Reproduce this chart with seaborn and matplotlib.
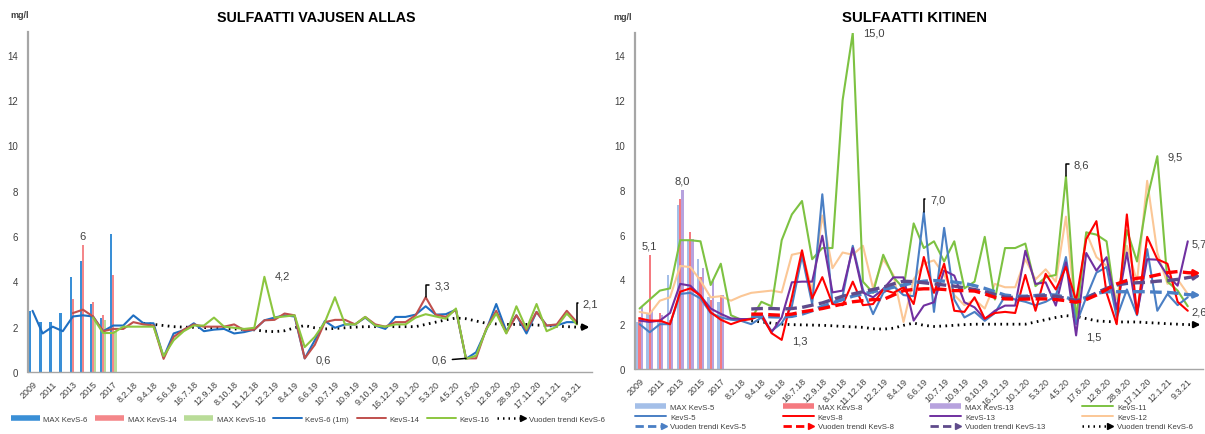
import numpy as np
import pandas as pd
import matplotlib
matplotlib.use("Agg")
import matplotlib.pyplot as plt
import seaborn as sns
from matplotlib.lines import Line2D
from matplotlib.legend_handler import HandlerBase

nan = np.nan
N_CAT = 56

# every second category carries a label
TICK_LABELS = ["2009", "2011", "2013", "2015", "2017",
               "8.2.18", "9.4.18", "5.6.18", "16.7.18", "12.9.18", "8.10.18",
               "11.12.18", "12.2.19", "8.4.19", "6.6.19", "10.7.19", "10.9.19",
               "9.10.19", "16.12.19", "10.1.20", "5.3.20", "4.5.20", "17.6.20",
               "12.8.20", "28.9.20", "17.11.20", "12.1.21", "9.3.21"]
YEARS = [2009, 2010, 2011, 2012, 2013, 2014, 2015, 2016, 2017]

# ---------------- Vajusen allas ----------------
max_kevs6 = [2.7, 2.2, 2.2, 2.6, 4.2, 4.9, 3.0, 2.4, 6.1]
max_kevs14 = [nan, nan, nan, nan, 3.2, 5.6, 3.1, 2.5, 4.3]
max_kevs16 = [nan, nan, nan, nan, nan, nan, 2.3, 2.3, 1.8]

kevs6_1m = [2.7, 1.7, 2.0, 1.8, 2.45, 2.5, 2.45, 1.8, 2.05, 2.05,
            2.5, 2.15, 2.15, 0.65, 1.7, 1.85, 2.15, 1.8, 1.87, 1.9,
            1.7, 1.76, 1.87, 2.28, 2.4, 2.5, 2.45, 0.6, 1.4, 2.25,
            1.95, 2.1, 2.1, 2.4, 2.05, 1.9, 2.43, 2.43, 2.53, 2.9,
            2.53, 2.55, 2.75, 0.58, 0.87, 1.84, 3.0, 1.8, 2.5, 1.7,
            2.65, 2.05, 2.05, 2.2, 2.2]
kevs14 = [nan, nan, nan, nan, 2.6, 2.75, 2.45, 1.8, 1.9, 1.9,
          2.2, 2.1, 2.05, 0.58, 1.55, 1.87, 2.1, 2.0, 2.0, 2.0,
          2.1, 1.84, 1.87, 2.28, 2.3, 2.58, 2.5, 0.6, 1.2, 2.2,
          2.3, 2.3, 2.1, 2.43, 2.1, 2.0, 2.2, 2.2, 2.5, 3.3,
          2.53, 2.43, 2.75, 0.6, 0.6, 1.9, 2.7, 1.72, 2.5, 1.84,
          2.65, 2.05, 2.1, 2.7, 2.2]
kevs16 = [nan, nan, nan, nan, nan, nan, 2.4, 1.72, 1.72, 2.0,
          2.0, 2.0, 2.0, 0.7, 1.4, 1.8, 2.05, 2.05, 2.4, 2.0,
          1.95, 1.9, 1.95, 4.2, 2.4, 2.45, 2.5, 1.1, 1.55, 2.2,
          3.3, 2.1, 2.1, 2.43, 2.05, 2.0, 2.1, 2.1, 2.4, 2.55,
          2.45, 2.35, 2.8, 0.58, 0.72, 1.87, 2.58, 1.7, 2.9, 1.9,
          3.0, 1.8, 2.0, 2.58, 2.1]
# yearly trend of KevS-6, from 9.4.18 onwards (shown in both panels)
trend_kevs6 = [nan] * 11 + [
    2.15, 2.1, 2.05, 2.0, 1.98, 1.97, 1.96, 1.95, 1.93, 1.9,
    1.88, 1.86, 1.8, 1.78, 1.82, 1.95, 2.05, 1.95, 1.9, 1.92,
    1.95, 1.98, 2.0, 2.0, 2.0, 2.0, 2.0, 2.0, 2.1, 2.2,
    2.3, 2.38, 2.35, 2.25, 2.15, 2.12, 2.1, 2.1, 2.1, 2.07,
    2.05, 2.02, 2.0, 1.98, 1.98]

# ---------------- Kitinen ----------------
max_kevs5 = [2.1, 2.5, 2.2, 4.2, 7.3, 5.7, 4.9, 3.2, 3.0]
max_kevs8 = [2.3, 5.1, 2.5, 2.2, 7.6, 6.1, 4.1, 3.1, 3.3]
max_kevs13 = [2.75, 2.6, 2.4, 2.3, 8.0, 5.8, 4.5, 4.0, 3.3]

kevs5 = [2.0, 1.64, 2.0, 2.0, 3.35, 3.4, 3.15, 2.5, 2.3, 2.2,
         2.15, 2.0, 2.3, 1.7, 2.05, 2.8, 5.05, 2.9, 7.8, 2.9,
         3.25, 5.5, 3.55, 2.45, 3.4, 3.7, 3.3, 3.25, 7.0, 2.55,
         6.3, 3.1, 2.3, 2.55, 2.15, 2.5, 3.25, 3.1, 3.0, 2.85,
         3.0, 3.25, 5.0, 2.0, 3.2, 4.3, 4.55, 2.3, 3.55, 2.4,
         5.35, 2.6, 3.35, 2.85, 3.2]
kevs8 = [2.26, 2.16, 2.16, 2.0, 3.45, 3.6, 3.27, 2.53, 2.2, 2.0,
         2.16, 2.23, 2.4, 1.6, 1.3, 3.2, 5.3, 3.15, 4.1, 2.9,
         2.85, 3.9, 2.85, 2.9, 3.55, 3.4, 3.65, 2.9, 5.0, 3.4,
         4.7, 2.6, 2.55, 3.2, 2.25, 2.5, 2.55, 2.5, 4.2, 2.6,
         4.25, 3.55, 4.55, 3.05, 5.8, 6.6, 3.4, 2.0, 6.9, 2.45,
         5.9, 4.9, 4.7, 3.0, 2.6]
kevs13 = [2.16, 2.1, 2.16, 2.5, 3.8, 3.72, 3.27, 2.7, 2.46, 2.26,
          2.23, 2.23, 2.46, 1.64, 2.3, 3.87, 3.9, 3.9, 5.95, 3.42,
          3.5, 5.4, 3.42, 3.2, 3.57, 4.09, 4.09, 2.16, 2.83, 2.98,
          4.4, 4.17, 2.98, 2.75, 2.23, 2.6, 2.83, 2.83, 5.28, 3.8,
          3.87, 2.83, 4.76, 1.5, 5.18, 4.39, 4.99, 2.68, 5.2, 2.46,
          4.9, 4.88, 4.17, 3.72, 5.7]
kevs11 = [2.7, 3.1, 3.5, 3.6, 5.75, 5.75, 5.7, 3.75, 4.7, 2.4,
          2.2, 2.25, 3.0, 2.8, 5.75, 6.9, 7.5, 4.9, 5.4, 5.4,
          12.0, 15.0, 3.9, 3.4, 5.1, 4.1, 3.6, 6.5, 5.4, 5.7,
          4.8, 5.7, 3.6, 3.9, 5.9, 3.1, 5.4, 5.4, 5.6, 3.7,
          4.1, 4.2, 8.6, 2.2, 6.1, 6.0, 5.7, 2.5, 6.2, 4.8,
          7.6, 9.5, 3.9, 3.5, 2.8]
kevs12 = [2.55, 2.46, 3.05, 3.2, 4.6, 4.55, 3.95, 3.2, 3.25, 3.05,
          3.25, 3.4, 3.45, 3.5, 3.42, 5.1, 5.2, 3.5, 6.85, 4.5,
          5.2, 5.1, 5.5, 3.6, 4.9, 4.2, 2.1, 4.0, 4.7, 4.85,
          4.2, 3.3, 2.85, 3.1, 2.7, 3.8, 3.65, 3.65, 4.9, 4.0,
          4.45, 3.9, 6.8, 2.25, 6.1, 5.0, 4.6, 3.1, 5.5, 3.9,
          8.4, 5.2, 3.8, 4.0, 3.35]
trend_kevs5 = [nan] * 11 + [
    2.35, 2.35, 2.33, 2.32, 2.35, 2.45, 2.6, 2.8, 2.95, 3.1,
    3.25, 3.35, 3.45, 3.55, 3.65, 3.75, 3.85, 3.92, 3.95, 3.92,
    3.88, 3.82, 3.72, 3.6, 3.45, 3.3, 3.25, 3.25, 3.28, 3.32,
    3.3, 3.2, 3.05, 3.2, 3.38, 3.45, 3.45, 3.45, 3.45, 3.45,
    3.43, 3.42, 3.38, 3.32, 3.3]
trend_kevs8 = [nan] * 11 + [
    2.45, 2.45, 2.42, 2.4, 2.45, 2.55, 2.62, 2.7, 2.8, 2.9,
    3.0, 3.05, 3.1, 3.1, 3.3, 3.5, 3.55, 3.58, 3.58, 3.55,
    3.5, 3.5, 3.48, 3.35, 3.2, 3.13, 3.12, 3.12, 3.13, 3.13,
    3.1, 3.05, 2.98, 3.1, 3.3, 3.55, 3.8, 3.95, 4.05, 4.1,
    4.2, 4.3, 4.35, 4.3, 4.28]
trend_kevs13 = [nan] * 11 + [
    2.68, 2.7, 2.7, 2.68, 2.7, 2.75, 2.85, 2.95, 3.1, 3.25,
    3.35, 3.45, 3.55, 3.65, 3.8, 3.92, 3.9, 3.85, 3.8, 3.75,
    3.7, 3.62, 3.55, 3.45, 3.33, 3.2, 3.2, 3.22, 3.25, 3.27,
    3.25, 3.15, 3.05, 3.15, 3.4, 3.6, 3.75, 3.82, 3.85, 3.87,
    3.92, 3.95, 4.0, 4.08, 4.15]

# ---------------- styling ----------------
W, H = 1205, 435
TEXT = "#404040"
AXIS = "#a6a6a6"
FONT = ["Liberation Sans", "DejaVu Sans"]

sns.set_theme(style="white")
plt.rcParams["font.family"] = FONT
plt.rcParams["axes.unicode_minus"] = False

fig = plt.figure(figsize=(W / 100, H / 100), dpi=100)


def px_axes(x0, x1, y_top, y_bot):
    return fig.add_axes([x0 / W, 1 - y_bot / H, (x1 - x0) / W, (y_bot - y_top) / H])


ax_l = px_axes(27.5, 592, 33, 373)
ax_r = px_axes(634.5, 1203, 34, 370)

BAR_WIDTH = 0.66


def draw_bars(ax, names, values, colors):
    rows = []
    for name, vals in zip(names, values):
        for i, v in enumerate(vals):
            if not np.isnan(v):
                rows.append({"pos": i, "value": v, "series": name})
    df = pd.DataFrame(rows)
    sns.barplot(data=df, x="pos", y="value", hue="series", order=list(range(N_CAT)),
                hue_order=names, palette=dict(zip(names, colors)), width=BAR_WIDTH,
                errorbar=None, legend=False, ax=ax, saturation=1, linewidth=0)


def draw_line(ax, vals, color, lw=1.3, dashes=None, arrow=False, zorder=3):
    x = np.arange(len(vals), dtype=float)
    y = np.asarray(vals, dtype=float)
    m = ~np.isnan(y)
    sns.lineplot(x=x[m], y=y[m], ax=ax, color=color, lw=lw,
                 estimator=None, sort=False, legend=False, zorder=zorder)
    line = ax.get_lines()[-1]
    if dashes is not None:
        line.set_dashes(dashes)
    if arrow:
        xe, ye = x[m][-1], y[m][-1]
        xp, yp = x[m][-2], y[m][-2]
        ax.annotate("", xy=(xe + 0.25, ye + (ye - yp) * 0.25),
                    xytext=(xe - 0.3, ye - (ye - yp) * 0.3),
                    arrowprops=dict(arrowstyle="-|>", color=color, lw=lw * 0.8,
                                    mutation_scale=9, shrinkA=0, shrinkB=0),
                    zorder=zorder)


def style_axes(ax):
    ax.set_xlim(-0.5, N_CAT - 0.5)
    ax.set_ylim(0, 15)
    ax.set_xlabel("")
    ax.set_ylabel("")
    for s in ("top", "right"):
        ax.spines[s].set_visible(False)
    ax.spines["left"].set_color(AXIS)
    ax.spines["left"].set_linewidth(1.6)
    ax.spines["bottom"].set_color(AXIS)
    ax.spines["bottom"].set_linewidth(1.0)
    ax.set_yticks(range(0, 15, 2))
    ax.set_yticklabels([str(v) for v in range(0, 15, 2)], fontsize=7, color=TEXT)
    ax.tick_params(axis="y", direction="out", length=3, width=0.8, color=AXIS, pad=4)
    pos = list(range(0, N_CAT, 2))[:len(TICK_LABELS)]
    ax.set_xticks(pos)
    ax.set_xticklabels(TICK_LABELS, rotation=45, ha="right", rotation_mode="anchor",
                       fontsize=6.5, color=TEXT)
    ax.set_xticks(np.arange(-0.5, N_CAT, 1.0), minor=True)
    ax.tick_params(axis="x", which="major", length=0, pad=5)
    ax.tick_params(axis="x", which="minor", direction="out", length=3, width=0.6,
                   color=AXIS)
    ax.grid(False)
    ax.set_facecolor("white")


def value_label(ax, x, y, text, dx, dy, ha="left", va="center", size=8):
    ax.annotate(text, xy=(x, y), xytext=(dx * 0.72, dy * 0.72), textcoords="offset points",
                ha=ha, va=va, fontsize=size, color=TEXT, zorder=6, annotation_clip=False)


def leader_label(ax, x, y, text, dx, dy, size=8):
    ax.annotate(text, xy=(x, y), xytext=(dx * 0.72, dy * 0.72), textcoords="offset points",
                ha="left", va="center", fontsize=size, color=TEXT, zorder=6,
                annotation_clip=False,
                arrowprops=dict(arrowstyle="-", color="black", lw=1.1, shrinkA=1.5,
                                shrinkB=0, relpos=(0, 0.5),
                                connectionstyle="angle,angleA=0,angleB=90,rad=0"))


def fmt(v, nd=1):
    return f"{v:.{nd}f}".replace(".", ",")


# ---------------- left panel ----------------
C6_BAR, C6 = "#3a8fd6", "#1f6fc2"
C14_BAR, C14 = "#f4878a", "#c0504d"
C16_BAR, C16 = "#b9dc98", "#8cc63f"

draw_bars(ax_l, ["MAX KevS-6", "MAX KevS-14", "MAX KevS-16"],
          [max_kevs6, max_kevs14, max_kevs16], [C6_BAR, C14_BAR, C16_BAR])
draw_line(ax_l, trend_kevs6, "black", lw=2.0, dashes=(0.6, 1.6), arrow=True, zorder=2)
draw_line(ax_l, kevs6_1m, C6, lw=1.5)
draw_line(ax_l, kevs14, C14, lw=1.5)
draw_line(ax_l, kevs16, C16, lw=1.5)
style_axes(ax_l)

value_label(ax_l, 5, max_kevs14[5], fmt(max_kevs14[5], 0), 0, 4, ha="center", va="bottom")
value_label(ax_l, 23, kevs16[23], fmt(kevs16[23]), 10, 1)
value_label(ax_l, 27, kevs6_1m[27], fmt(kevs6_1m[27]), 11, -1)
leader_label(ax_l, 39, kevs14[39], fmt(kevs14[39]), 9, 12)
ax_l.annotate(fmt(kevs14[43]), xy=(43, kevs14[43]), xytext=(-19 * 0.72, -1.5 * 0.72),
              textcoords="offset points", ha="right", va="center", fontsize=8, color=TEXT,
              arrowprops=dict(arrowstyle="-", color="black", lw=1.1, shrinkA=1.5, shrinkB=0,
                              relpos=(1, 0.5)))
leader_label(ax_l, 54, kevs16[54], fmt(kevs16[54]), 6, 21)

# ---------------- right panel ----------------
C5_BAR, C5 = "#a4bfe8", "#4a7fc4"
C8_BAR, C8 = "#f57a80", "#ff0000"
C13_BAR, C13, C13_TR = "#b7a2de", "#7030a0", "#5f4b8b"
C11, C12 = "#7dc242", "#fbc796"

draw_bars(ax_r, ["MAX KevS-5", "MAX KevS-8", "MAX KevS-13"],
          [max_kevs5, max_kevs8, max_kevs13], [C5_BAR, C8_BAR, C13_BAR])
draw_line(ax_r, trend_kevs6, "black", lw=2.0, dashes=(0.6, 1.6), arrow=True, zorder=2)
draw_line(ax_r, kevs12, C12, lw=1.5)
draw_line(ax_r, kevs11, C11, lw=1.5)
draw_line(ax_r, kevs5, C5, lw=1.5)
draw_line(ax_r, kevs13, C13, lw=1.5)
draw_line(ax_r, kevs8, C8, lw=1.5)
draw_line(ax_r, trend_kevs5, C5, lw=2.4, dashes=(3.5, 1.6), arrow=True, zorder=4)
draw_line(ax_r, trend_kevs13, C13_TR, lw=2.4, dashes=(3.5, 1.6), arrow=True, zorder=4)
draw_line(ax_r, trend_kevs8, C8, lw=2.4, dashes=(3.5, 1.6), arrow=True, zorder=4)
style_axes(ax_r)

off = BAR_WIDTH / 3
value_label(ax_r, 4 + off, max_kevs13[4], fmt(max_kevs13[4]), 0, 4, ha="center", va="bottom")
value_label(ax_r, 1, max_kevs8[1], fmt(max_kevs8[1]), 0, 4, ha="center", va="bottom")
value_label(ax_r, 21, kevs11[21], fmt(kevs11[21]), 10, 0)
value_label(ax_r, 14, kevs8[14], fmt(kevs8[14]), 10, -1)
leader_label(ax_r, 28, kevs5[28], fmt(kevs5[28]), 7, 13)
leader_label(ax_r, 42, kevs11[42], fmt(kevs11[42]), 8, 12)
value_label(ax_r, 51, kevs11[51], fmt(kevs11[51]), 10, 0)
value_label(ax_r, 54, kevs13[54], fmt(kevs13[54]), 4, -2)
value_label(ax_r, 54, kevs8[54], fmt(kevs8[54]), 4, -1)
value_label(ax_r, 43, kevs13[43], fmt(kevs13[43]), 10, -1)

# ---------------- titles ----------------
fig.text(316 / W, 1 - 18 / H, "SULFAATTI VAJUSEN ALLAS", ha="center", va="center",
         fontsize=10.3, fontweight="bold", color="black")
fig.text(915 / W, 1 - 18 / H, "SULFAATTI KITINEN", ha="center", va="center",
         fontsize=10.8, fontweight="bold", color="black")
fig.text(10 / W, 1 - 16 / H, "mg/l", ha="left", va="center", fontsize=6.5,
         fontweight="bold", color=TEXT)
fig.text(613 / W, 1 - 17 / H, "mg/l", ha="left", va="center", fontsize=6.5,
         fontweight="bold", color=TEXT)


# ---------------- legends ----------------
class ArrowLineHandler(HandlerBase):
    def create_artists(self, legend, orig, xdescent, ydescent, width, height, fontsize, trans):
        y = height / 2 - ydescent
        x0, x1 = -xdescent, width - xdescent
        line = Line2D([x0, x1 - 3], [y, y], color=orig.get_color(), lw=orig.get_linewidth())
        line.set_dashes(orig.dash_seq)
        head = Line2D([x1 - 2], [y], marker=">", color=orig.get_color(), markersize=4.5,
                      linestyle="none")
        line.set_transform(trans)
        head.set_transform(trans)
        return [line, head]


def arrow_handle(color, lw, dashes):
    h = Line2D([], [], color=color, lw=lw)
    h.dash_seq = dashes
    return h


def bar_handle(color):
    return Line2D([], [], color=color, lw=4.0, solid_capstyle="butt")


def line_handle(color):
    return Line2D([], [], color=color, lw=1.4)


LEG_FS = 5.6
tr6 = arrow_handle("black", 1.8, (0.6, 1.6))
left_handles = [bar_handle(C6_BAR), bar_handle(C14_BAR), bar_handle(C16_BAR),
                line_handle(C6), line_handle(C14), line_handle(C16), tr6]
left_labels = ["MAX KevS-6", "MAX KevS-14", "MAX KevS-16", "KevS-6 (1m)", "KevS-14",
               "KevS-16", "Vuoden trendi KevS-6"]
leg_l = fig.legend(left_handles, left_labels, loc="center",
                   bbox_to_anchor=(308 / W, 1 - 420 / H), ncol=7, frameon=False,
                   fontsize=LEG_FS, handlelength=3.7, handletextpad=0.45,
                   columnspacing=1.0, borderpad=0.1,
                   handler_map={tr6: ArrowLineHandler()})
for t in leg_l.get_texts():
    t.set_color(TEXT)

tr5 = arrow_handle(C5, 2.0, (3.0, 1.5))
tr8 = arrow_handle(C8, 2.0, (3.0, 1.5))
tr13 = arrow_handle(C13_TR, 2.0, (3.0, 1.5))
tr6b = arrow_handle("black", 1.8, (0.6, 1.6))
right_handles = [bar_handle(C5_BAR), line_handle(C5), tr5,
                 bar_handle(C8_BAR), line_handle(C8), tr8,
                 bar_handle(C13_BAR), line_handle(C13), tr13,
                 line_handle(C11), line_handle(C12), tr6b]
right_labels = ["MAX KevS-5", "KevS-5", "Vuoden trendi KevS-5",
                "MAX KevS-8", "KevS-8", "Vuoden trendi KevS-8",
                "MAX KevS-13", "KevS-13", "Vuoden trendi KevS-13",
                "KevS-11", "KevS-12", "Vuoden trendi KevS-6"]
leg_r = fig.legend(right_handles, right_labels, loc="center",
                   bbox_to_anchor=(914 / W, 1 - 418 / H), ncol=4, frameon=False,
                   fontsize=LEG_FS, handlelength=4.0, handletextpad=0.5, columnspacing=4.7,
                   labelspacing=0.3, borderpad=0.1,
                   handler_map={h: ArrowLineHandler() for h in (tr5, tr8, tr13, tr6b)})
for t in leg_r.get_texts():
    t.set_color(TEXT)

fig.savefig("out.png", dpi=100, facecolor="white")
